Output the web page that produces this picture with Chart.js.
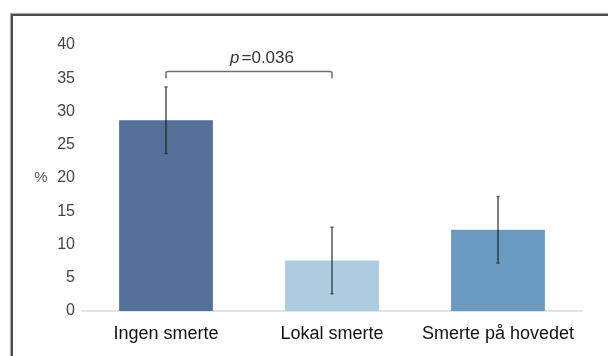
<!DOCTYPE html>
<html>
<head>
<meta charset="utf-8">
<script src="https://cdn.jsdelivr.net/npm/chart.js@4/dist/chart.umd.min.js"></script>
<style>
  html, body { margin: 0; padding: 0; background: #fff; }
  #wrap { position: relative; width: 608px; height: 356px; overflow: hidden; }
  #frame {
    position: absolute; left: 11px; top: 14px; right: -10px; bottom: -10px;
    border-top: 2px solid #4a4a4a; border-left: 2px solid #4a4a4a;
    box-shadow: -1px -1px 1px rgba(120,120,120,0.6);
  }
  canvas { position: absolute; left: 0; top: 0; }
</style>
</head>
<body>
<div id="wrap">
  <div id="frame"></div>
  <canvas id="chart" width="608" height="356"></canvas>
</div>
<script>
// Share of patients per pain group, with ± error
const categories = ['Ingen smerte', 'Lokal smerte', 'Smerte på hovedet'];
const percentages = [28.7, 7.6, 12.2];
const errors = [5.0, 5.0, 5.0];
const yAxisTitle = '%';
const yMin = 0;
const yMax = 40;
const yStep = 5;
// Significance bracket between the first two groups
const bracketGroups = [0, 1];
const bracketLevel = 36;
const bracketLegLevel = 35;
const pSymbol = 'p';
const pText = '=0.036';

const FONT = '"Liberation Sans", Arial, sans-serif';

const errorBars = {
  id: 'errorBars',
  afterDatasetsDraw(chart) {
    const ctx = chart.ctx;
    const y = chart.scales.y;
    const meta = chart.getDatasetMeta(0);
    ctx.save();
    ctx.strokeStyle = 'rgba(25,25,25,0.72)';
    ctx.lineWidth = 1.5;
    meta.data.forEach((bar, i) => {
      const top = y.getPixelForValue(percentages[i] + errors[i]);
      const bot = y.getPixelForValue(percentages[i] - errors[i]);
      ctx.beginPath();
      ctx.moveTo(bar.x, top);
      ctx.lineTo(bar.x, bot);
      ctx.moveTo(bar.x - 1.5, top);
      ctx.lineTo(bar.x + 1.5, top);
      ctx.moveTo(bar.x - 1.5, bot);
      ctx.lineTo(bar.x + 1.5, bot);
      ctx.stroke();
    });
    ctx.restore();
  }
};

const significance = {
  id: 'significance',
  afterDraw(chart) {
    const ctx = chart.ctx;
    const y = chart.scales.y;
    const meta = chart.getDatasetMeta(0);
    const x0 = meta.data[bracketGroups[0]].x;
    const x1 = meta.data[bracketGroups[1]].x;
    const yt = y.getPixelForValue(bracketLevel);
    const yl = y.getPixelForValue(bracketLegLevel);
    ctx.save();
    ctx.strokeStyle = '#6e6e6e';
    ctx.lineWidth = 1.5;
    ctx.beginPath();
    ctx.moveTo(x0, yl);
    ctx.lineTo(x0, yt + 2);
    ctx.quadraticCurveTo(x0, yt, x0 + 2, yt);
    ctx.lineTo(x1 - 2, yt);
    ctx.quadraticCurveTo(x1, yt, x1, yt + 2);
    ctx.lineTo(x1, yl);
    ctx.stroke();

    // p-value label
    ctx.fillStyle = '#333';
    ctx.textBaseline = 'middle';
    ctx.font = 'italic 17px ' + FONT;
    const wp = ctx.measureText(pSymbol).width;
    ctx.font = '17px ' + FONT;
    const wr = ctx.measureText(pText).width;
    const cx = (x0 + x1) / 2 + 13;
    const ty = yt - 13;
    let tx = cx - (wp + wr + 2) / 2;
    ctx.font = 'italic 17px ' + FONT;
    ctx.textAlign = 'left';
    ctx.fillText(pSymbol, tx, ty);
    ctx.font = '17px ' + FONT;
    ctx.fillText(pText, tx + wp + 2, ty);

    // y axis title, written horizontally beside the middle tick
    ctx.font = '15px ' + FONT;
    ctx.fillStyle = '#555';
    ctx.textAlign = 'center';
    ctx.fillText(yAxisTitle, 41, y.getPixelForValue((yMin + yMax) / 2));
    ctx.restore();
  }
};

new Chart(document.getElementById('chart'), {
  type: 'bar',
  data: {
    labels: categories,
    datasets: [{
      data: percentages,
      backgroundColor: ['rgb(86,113,153)', 'rgb(174,204,224)', 'rgb(106,154,192)'],
      borderWidth: 0,
      categoryPercentage: 1,
      barPercentage: 0.565
    }]
  },
  options: {
    responsive: false,
    animation: false,
    devicePixelRatio: 1,
    layout: { padding: { left: 0, right: 27, top: 45, bottom: 0 } },
    plugins: { legend: { display: false }, tooltip: { enabled: false }, title: { display: false } },
    scales: {
      x: {
        grid: { display: false, drawTicks: false },
        border: { display: true, color: '#e2e2e2', width: 2 },
        ticks: { color: '#111', font: { family: FONT, size: 18 }, padding: 12, maxRotation: 0 },
        afterFit(scale) { scale.height = 45; }
      },
      y: {
        min: yMin,
        max: yMax,
        grid: { display: false, drawTicks: false },
        border: { display: false },
        ticks: { stepSize: yStep, color: '#444', font: { family: FONT, size: 16 }, padding: 8 },
        afterFit(scale) { scale.width = 83; }
      }
    }
  },
  plugins: [errorBars, significance]
});
</script>
</body>
</html>
